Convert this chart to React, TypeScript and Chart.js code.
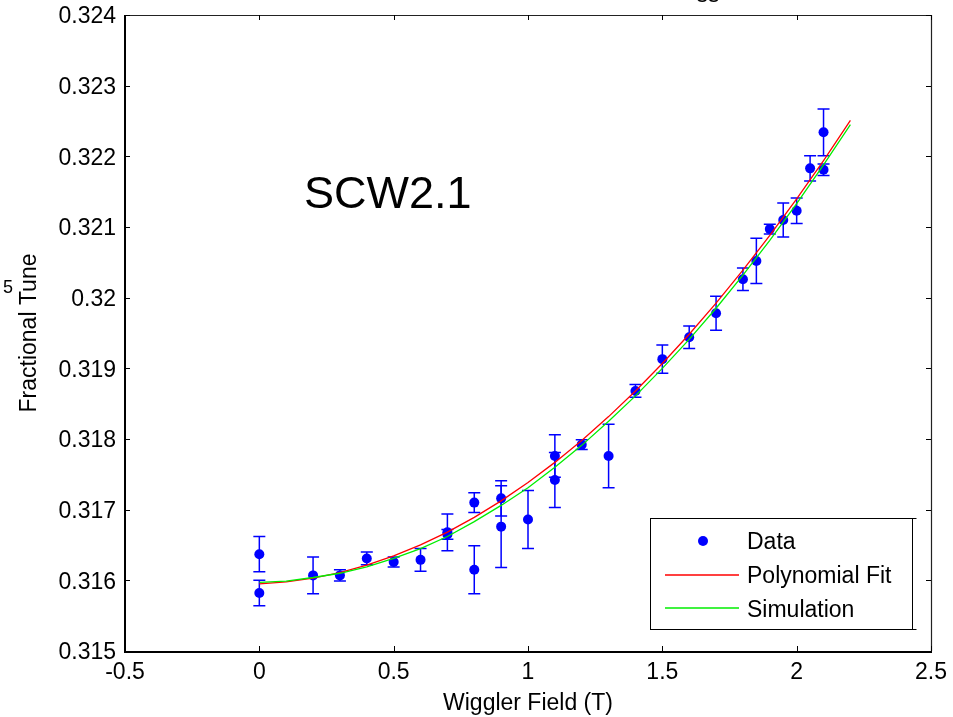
import React, { useEffect, useRef } from 'react';
import { Chart, registerables } from 'chart.js';

Chart.register(...registerables);

// ---------- data ----------
const fieldT = [0, 0, 0.2, 0.3, 0.4, 0.5, 0.6, 0.7, 0.7, 0.8, 0.8, 0.9, 0.9, 1.0, 1.1, 1.1, 1.2, 1.3, 1.4, 1.5, 1.6, 1.7, 1.8, 1.85, 1.9, 1.95, 2.0, 2.05, 2.1, 2.1];
const tuneData = [0.31637, 0.31582, 0.31607, 0.31607, 0.31631, 0.31626, 0.31629, 0.31668, 0.31665, 0.3171, 0.31615, 0.31716, 0.31676, 0.31686, 0.31776, 0.31742, 0.31792, 0.31776, 0.31868, 0.31913, 0.31944, 0.31978, 0.32026, 0.32052, 0.32097, 0.3211, 0.32123, 0.32183, 0.32234, 0.32181];
const tuneErr = [0.00025, 0.00018, 0.00026, 0.00008, 0.00009, 0.00007, 0.00016, 0.00026, 0.00007, 0.00014, 0.00034, 0.00025, 0.00058, 0.00041, 0.0003, 0.00039, 0.00007, 0.00045, 0.00009, 0.0002, 0.00016, 0.00024, 0.00016, 0.00032, 0.00007, 0.00024, 0.00018, 0.00018, 0.00033, 0.00008];

const curveField = [0, 0.1, 0.2, 0.3, 0.4, 0.5, 0.6, 0.7, 0.8, 0.9, 1.0, 1.1, 1.2, 1.3, 1.4, 1.5, 1.6, 1.7, 1.8, 1.9, 2.0, 2.1, 2.2];
const fitTune = [0.31595, 0.315977, 0.31603, 0.316109, 0.316214, 0.316345, 0.316501, 0.316683, 0.316891, 0.317125, 0.317384, 0.317669, 0.31798, 0.318317, 0.31868, 0.319069, 0.319483, 0.319923, 0.320389, 0.32088, 0.321398, 0.321941, 0.32251];
const simTune = [0.31597, 0.31599, 0.31604, 0.3161, 0.31619, 0.31631, 0.31645, 0.31662, 0.31683, 0.31706, 0.31731, 0.3176, 0.31791, 0.31825, 0.31861, 0.319, 0.31941, 0.31985, 0.32032, 0.32081, 0.32133, 0.32188, 0.32245];

const xTickValues = [-0.5, 0, 0.5, 1, 1.5, 2, 2.5];
const xTickLabels = ['-0.5', '0', '0.5', '1', '1.5', '2', '2.5'];
const yTickValues = [0.315, 0.316, 0.317, 0.318, 0.319, 0.32, 0.321, 0.322, 0.323, 0.324];
const yTickLabels = ['0.315', '0.316', '0.317', '0.318', '0.319', '0.32', '0.321', '0.322', '0.323', '0.324'];

const seriesLabels = ['Data', 'Polynomial Fit', 'Simulation'];
const seriesColors = ['#0000ff', '#ff0000', '#00ee00'];
const xTitle = 'Wiggler Field (T)';
const yTitle = 'Fractional Tune';
const annotationText = 'SCW2.1';
const cutTitleText = 'ss';
const strayText = '5';

const FONT = 'Arial, "Liberation Sans", Helvetica, sans-serif';

const decorPlugin = {
  id: 'decor',
  beforeDatasetsDraw(chart: any) {
    const { ctx } = chart;
    const xs = chart.scales.x;
    const ys = chart.scales.y;
    ctx.save();
    ctx.strokeStyle = seriesColors[0];
    ctx.lineWidth = 1.5;
    fieldT.forEach((fx, i) => {
      const px = xs.getPixelForValue(fx);
      const y1 = ys.getPixelForValue(tuneData[i] + tuneErr[i]);
      const y2 = ys.getPixelForValue(tuneData[i] - tuneErr[i]);
      ctx.beginPath();
      ctx.moveTo(px, y1);
      ctx.lineTo(px, y2);
      ctx.moveTo(px - 6, y1);
      ctx.lineTo(px + 6, y1);
      ctx.moveTo(px - 6, y2);
      ctx.lineTo(px + 6, y2);
      ctx.stroke();
    });
    ctx.restore();
  },
  afterDraw(chart: any) {
    const { ctx, chartArea } = chart;
    const { left, right, top, bottom } = chartArea;
    const xs = chart.scales.x;
    const ys = chart.scales.y;
    ctx.save();
    // frame
    ctx.strokeStyle = '#222';
    ctx.lineWidth = 1.2;
    ctx.beginPath();
    ctx.moveTo(left, top + 0.5);
    ctx.lineTo(right, top + 0.5);
    ctx.moveTo(right + 0.5, top);
    ctx.lineTo(right + 0.5, bottom);
    ctx.stroke();
    ctx.strokeStyle = '#000';
    ctx.lineWidth = 2;
    ctx.beginPath();
    ctx.moveTo(left, top);
    ctx.lineTo(left, bottom + 1);
    ctx.lineTo(right + 1, bottom + 1);
    ctx.stroke();
    // inward ticks
    ctx.lineWidth = 1;
    ctx.strokeStyle = '#000';
    ctx.beginPath();
    xTickValues.forEach((v) => {
      const px = Math.round(xs.getPixelForValue(v)) + 0.5;
      ctx.moveTo(px, bottom);
      ctx.lineTo(px, bottom - 5);
      ctx.moveTo(px, top);
      ctx.lineTo(px, top + 5);
    });
    yTickValues.forEach((v) => {
      const py = Math.round(ys.getPixelForValue(v)) + 0.5;
      ctx.moveTo(left, py);
      ctx.lineTo(left + 5, py);
      ctx.moveTo(right, py);
      ctx.lineTo(right - 5, py);
    });
    ctx.stroke();

    // annotation
    ctx.fillStyle = '#000';
    ctx.font = `45px ${FONT}`;
    ctx.textAlign = 'left';
    ctx.textBaseline = 'alphabetic';
    ctx.fillText(annotationText, 304, 208);

    // stray glyphs at the figure edges
    ctx.font = `18px ${FONT}`;
    ctx.fillText(strayText, 3, 293);
    ctx.font = `23px ${FONT}`;
    ctx.textAlign = 'center';
    ctx.fillText(cutTitleText, 708, 2);

    // legend
    const bx = 650.5, by = 518.5, bw = 262, bh = 111;
    ctx.fillStyle = '#fff';
    ctx.fillRect(bx, by, bw, bh);
    ctx.strokeStyle = '#000';
    ctx.lineWidth = 1;
    ctx.strokeRect(bx, by, bw, bh);
    ctx.beginPath();
    ctx.moveTo(bx + bw, by);
    ctx.lineTo(bx + bw + 4, by);
    ctx.moveTo(bx + bw, by + bh);
    ctx.lineTo(bx + bw + 4, by + bh);
    ctx.stroke();

    const rowsY = [541, 575, 608];
    const textY = [543, 577, 611];
    ctx.font = `23px ${FONT}`;
    ctx.textAlign = 'left';
    ctx.textBaseline = 'middle';
    seriesLabels.forEach((lab, i) => {
      if (i === 0) {
        ctx.fillStyle = seriesColors[0];
        ctx.beginPath();
        ctx.arc(703, rowsY[i], 5, 0, Math.PI * 2);
        ctx.fill();
      } else {
        ctx.strokeStyle = seriesColors[i];
        ctx.lineWidth = 1.3;
        ctx.beginPath();
        ctx.moveTo(665, rowsY[i]);
        ctx.lineTo(739, rowsY[i]);
        ctx.stroke();
      }
      ctx.fillStyle = '#000';
      ctx.fillText(lab, 747, textY[i]);
    });
    ctx.restore();
  },
};

export default function App() {
  const canvasRef = useRef<HTMLCanvasElement | null>(null);

  useEffect(() => {
    const canvas = canvasRef.current;
    if (!canvas) return;
    Chart.defaults.font.family = FONT;
    const chart = new Chart(canvas, {
      type: 'scatter',
      data: {
        datasets: [
          {
            label: seriesLabels[0],
            data: fieldT.map((x, i) => ({ x, y: tuneData[i] })),
            showLine: false,
            pointRadius: 5,
            pointBorderWidth: 0,
            backgroundColor: seriesColors[0],
            borderColor: seriesColors[0],
            order: 3,
          },
          {
            label: seriesLabels[1],
            data: curveField.map((x, i) => ({ x, y: fitTune[i] })),
            showLine: true,
            pointRadius: 0,
            borderColor: seriesColors[1],
            backgroundColor: seriesColors[1],
            borderWidth: 1.3,
            fill: false,
            order: 2,
          },
          {
            label: seriesLabels[2],
            data: curveField.map((x, i) => ({ x, y: simTune[i] })),
            showLine: true,
            pointRadius: 0,
            borderColor: seriesColors[2],
            backgroundColor: seriesColors[2],
            borderWidth: 1.3,
            fill: false,
            order: 1,
          },
        ],
      },
      options: {
        animation: false,
        responsive: false,
        events: [],
        layout: { padding: { top: 15, right: 22, left: 0, bottom: 0 } },
        plugins: {
          legend: { display: false },
          tooltip: { enabled: false },
          title: { display: false },
        },
        scales: {
          x: {
            type: 'linear',
            min: -0.5,
            max: 2.5,
            grid: { display: false, drawTicks: false },
            border: { display: false },
            afterBuildTicks: (s: any) => {
              s.ticks = xTickValues.map((v) => ({ value: v }));
            },
            afterFit: (s: any) => {
              s.height = 66;
              s.paddingLeft = 0;
              s.paddingRight = 0;
            },
            ticks: {
              color: '#000',
              font: { size: 23 },
              padding: 8,
              maxRotation: 0,
              autoSkip: false,
              callback: (_v: any, i: number) => xTickLabels[i],
            },
            title: {
              display: true,
              text: xTitle,
              color: '#000',
              font: { size: 23 },
              padding: { top: 0, bottom: 0 },
            },
          },
          y: {
            type: 'linear',
            min: 0.315,
            max: 0.324,
            grid: { display: false, drawTicks: false },
            border: { display: false },
            afterBuildTicks: (s: any) => {
              s.ticks = yTickValues.map((v) => ({ value: v }));
            },
            afterFit: (s: any) => {
              s.width = 125;
              s.paddingTop = 0;
              s.paddingBottom = 0;
            },
            ticks: {
              color: '#000',
              font: { size: 23 },
              padding: 9,
              labelOffset: 2,
              autoSkip: false,
              callback: (_v: any, i: number) => yTickLabels[i],
            },
            title: {
              display: true,
              text: yTitle,
              color: '#000',
              font: { size: 23 },
              padding: { top: 16, bottom: 0 },
            },
          },
        },
      },
      plugins: [decorPlugin],
    } as any);
    return () => chart.destroy();
  }, []);

  return (
    <div style={{ position: 'absolute', left: 0, top: 0, width: 953, height: 717, background: '#fff' }}>
      <canvas ref={canvasRef} width={953} height={717} style={{ display: 'block' }} />
    </div>
  );
}
